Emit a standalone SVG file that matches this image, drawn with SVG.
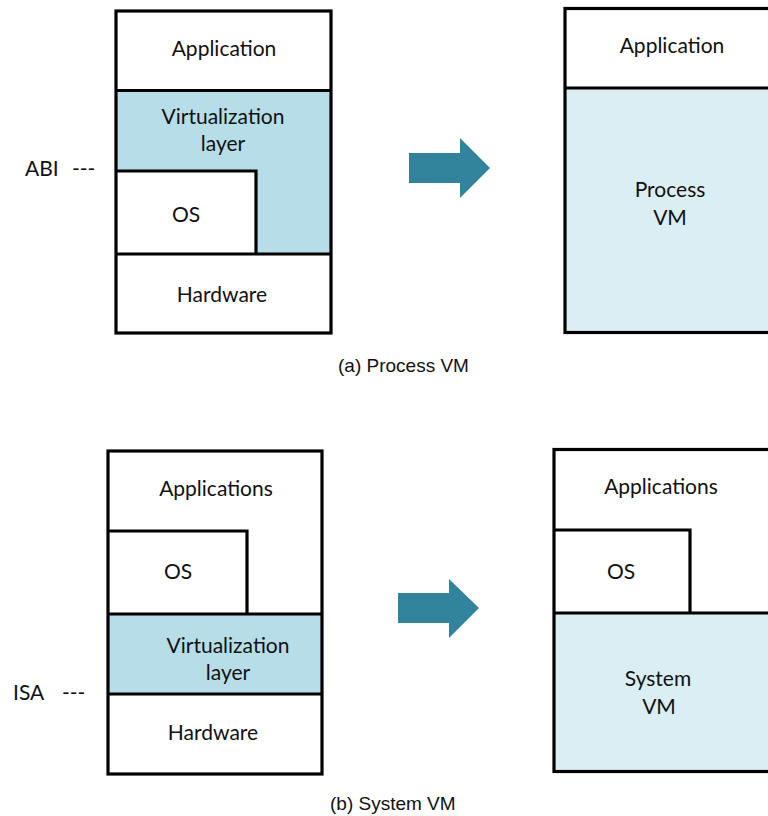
<svg xmlns="http://www.w3.org/2000/svg" width="768" height="816" viewBox="0 0 768 816">
  <style>
    .frame { fill: none; stroke: #000; stroke-width: 3.2; stroke-linejoin: miter; }
    .rule { fill: none; stroke: #000; stroke-width: 3.2; }
    .virt { fill: #b7dde8; }
    .vm { fill: #dbeef4; }
    .lbl { font-family: Lato, "Open Sans", sans-serif; font-size: 21px; fill: #111; text-anchor: middle; }
    .side { font-family: Lato, "Open Sans", sans-serif; font-size: 21px; fill: #111; }
    .cap { font-family: "Liberation Sans", Arial, sans-serif; font-size: 19px; fill: #111; }
    .arrow { fill: #31849b; }
  </style>

  <rect width="768" height="816" fill="#ffffff"/>

  <!-- (a) Process VM: stack before -->
  <g id="process-stack">
    <path class="virt" d="M116 91 H330 V254 H256 V171 H116 Z"/>
    <rect class="frame" x="116" y="11" width="215" height="322"/>
    <line class="rule" x1="116" y1="90.5" x2="331" y2="90.5"/>
    <polyline class="rule" points="116,171 256,171 256,254"/>
    <line class="rule" x1="116" y1="254" x2="331" y2="254"/>
    <text class="lbl" x="224" y="56">Application</text>
    <text class="lbl" x="223" y="124">Virtualization</text>
    <text class="lbl" x="223" y="151">layer</text>
    <text class="lbl" x="186" y="222">OS</text>
    <text class="lbl" x="222" y="302">Hardware</text>
  </g>
  <g id="abi-label">
    <text class="side" x="25" y="176">ABI</text>
    <text class="side" x="72" y="176">---</text>
  </g>

  <!-- (a) Process VM: stack after -->
  <g id="process-vm">
    <rect class="vm" x="565" y="88" width="210" height="244"/>
    <rect class="frame" x="565" y="8.5" width="220" height="324"/>
    <line class="rule" x1="565" y1="88" x2="775" y2="88"/>
    <text class="lbl" x="672" y="53">Application</text>
    <text class="lbl" x="670" y="197">Process</text>
    <text class="lbl" x="670" y="225">VM</text>
  </g>

  <!-- (b) System VM: stack before -->
  <g id="system-stack">
    <rect class="virt" x="108" y="614" width="213" height="80"/>
    <rect class="frame" x="108" y="451" width="214" height="323"/>
    <polyline class="rule" points="108,531 247,531 247,614"/>
    <line class="rule" x1="108" y1="614" x2="322" y2="614"/>
    <line class="rule" x1="108" y1="694" x2="322" y2="694"/>
    <text class="lbl" x="216" y="496">Applications</text>
    <text class="lbl" x="178" y="579">OS</text>
    <text class="lbl" x="228" y="653">Virtualization</text>
    <text class="lbl" x="228" y="680">layer</text>
    <text class="lbl" x="213" y="740">Hardware</text>
  </g>
  <g id="isa-label">
    <text class="side" x="13" y="700">ISA</text>
    <text class="side" x="62" y="700">---</text>
  </g>

  <!-- (b) System VM: stack after -->
  <g id="system-vm">
    <rect class="vm" x="554" y="613" width="220" height="158"/>
    <rect class="frame" x="554" y="449.5" width="230" height="322"/>
    <polyline class="rule" points="554,530 690,530 690,613"/>
    <line class="rule" x1="554" y1="613" x2="775" y2="613"/>
    <text class="lbl" x="661" y="494">Applications</text>
    <text class="lbl" x="621" y="579">OS</text>
    <text class="lbl" x="658" y="686">System</text>
    <text class="lbl" x="659" y="714">VM</text>
  </g>

  <!-- transformation arrows -->
  <g id="connectors">
    <polygon class="arrow" points="409,153 460,153 460,138 490,168 460,198 460,183 409,183"/>
    <polygon class="arrow" points="398,593 449,593 449,579 479,608 449,638 449,623 398,623"/>
  </g>

  <!-- captions -->
  <g id="captions">
    <text class="cap" x="338" y="372">(a) Process VM</text>
    <text class="cap" x="330" y="810">(b) System VM</text>
  </g>
</svg>
